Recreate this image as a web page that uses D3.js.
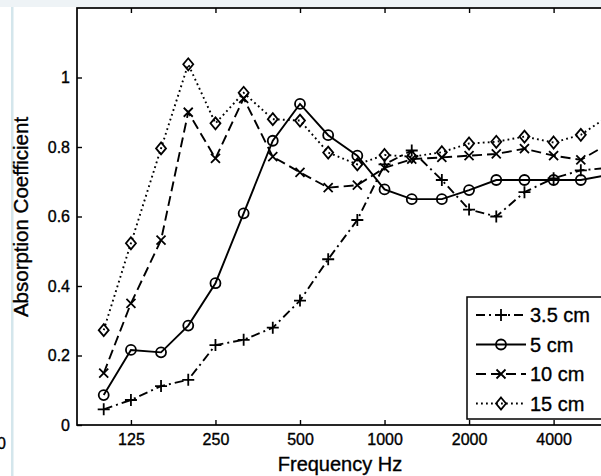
<!DOCTYPE html>
<html>
<head>
<meta charset="utf-8">
<script src="https://cdn.jsdelivr.net/npm/d3@7"></script>
<style>
  body { margin: 0; background: #fff; }
  svg { display: block; overflow: hidden; font-family: "Liberation Sans", Arial, sans-serif; }
  text { stroke: #000; stroke-width: 0.35px; }
</style>
</head>
<body>
<div id="chart"></div>
<script>
// 1/3 octave band centre frequencies
const freqs = [100, 125, 160, 200, 250, 315, 400, 500, 630, 800, 1000, 1250, 1600, 2000, 2500, 3150, 4000, 5000, 6300];
const xTicks = [125, 250, 500, 1000, 2000, 4000];
const yTicks = [0, 0.2, 0.4, 0.6, 0.8, 1];

const labels = ["3.5 cm", "5 cm", "10 cm", "15 cm"];
const s35 = [0.045, 0.072, 0.112, 0.13, 0.23, 0.245, 0.28, 0.358, 0.477, 0.59, 0.75, 0.79, 0.705, 0.62, 0.6, 0.67, 0.71, 0.733, 0.74];
const s5  = [0.086, 0.216, 0.209, 0.286, 0.408, 0.609, 0.818, 0.924, 0.834, 0.775, 0.678, 0.65, 0.65, 0.676, 0.705, 0.705, 0.705, 0.705, 0.72];
const s10 = [0.149, 0.35, 0.532, 0.9, 0.767, 0.94, 0.772, 0.727, 0.683, 0.69, 0.74, 0.765, 0.77, 0.775, 0.78, 0.795, 0.775, 0.763, 0.81];
const s15 = [0.273, 0.523, 0.796, 1.038, 0.868, 0.956, 0.88, 0.876, 0.784, 0.75, 0.777, 0.772, 0.785, 0.81, 0.815, 0.83, 0.813, 0.835, 0.89];

const W = 601, H = 476;
const plot = {left: 77, right: 609, top: 8, bottom: 425};

const svg = d3.select("#chart").append("svg")
    .attr("width", W).attr("height", H);

// page decoration (top band, left stripe, stray clipped label)
svg.append("rect").attr("x", 0).attr("y", 0).attr("width", W).attr("height", 7).attr("fill", "#eef3f6");
svg.append("rect").attr("x", 11).attr("y", 7).attr("width", 2.5).attr("height", H).attr("fill", "#d4e6ec");
svg.append("text").attr("x", -3).attr("y", 449).attr("font-size", 16).text("0");

const x = d3.scaleLog().domain([80, 6300]).range([plot.left - 0.5, plot.right]);
const y = d3.scaleLinear().domain([0, 1.2]).range([plot.bottom, plot.top]);

// axes, matlab style ticks pointing inwards
const gx = svg.append("g").attr("transform", `translate(0,${plot.bottom})`)
    .call(d3.axisBottom(x).tickValues(xTicks).tickFormat(d3.format("d")).tickSize(-5).tickPadding(9));
const gxTop = svg.append("g").attr("transform", `translate(0,${plot.top})`)
    .call(d3.axisTop(x).tickValues(xTicks).tickFormat("").tickSize(-5));
const gy = svg.append("g").attr("transform", `translate(${plot.left},0)`)
    .call(d3.axisLeft(y).tickValues(yTicks).tickFormat(d => d === 0 || d === 1 ? d3.format("d")(d) : d3.format(".1f")(d)).tickSize(-5).tickPadding(7));

[gx, gxTop, gy].forEach(g => {
    g.select(".domain").remove();
    g.selectAll("line").attr("stroke", "#000").attr("stroke-width", 1.4);
    g.selectAll("text").attr("font-size", 16).attr("fill", "#000");
});
gx.selectAll("text").attr("dy", "0.71em");

// frame
svg.append("rect")
    .attr("x", plot.left).attr("y", plot.top)
    .attr("width", plot.right - plot.left).attr("height", plot.bottom - plot.top)
    .attr("fill", "none").attr("stroke", "#000").attr("stroke-width", 1.7);

// series
const styles = [
    {vals: s35, dash: "9,4,2,4", marker: "plus"},
    {vals: s5, dash: null, marker: "circle"},
    {vals: s10, dash: "10,5", marker: "cross"},
    {vals: s15, dash: "1.8,3.2", marker: "diamond"}
];

const line = d3.line().x(d => x(d.f)).y(d => y(d.v));

function drawMarker(g, type, cx, cy) {
    const m = g.append("path")
        .attr("fill", "none").attr("stroke", "#000").attr("stroke-width", 1.8);
    if (type === "plus") {
        m.attr("d", `M${cx - 6},${cy}H${cx + 6}M${cx},${cy - 6}V${cy + 6}`);
    } else if (type === "cross") {
        m.attr("d", `M${cx - 4.5},${cy - 4.5}L${cx + 4.5},${cy + 4.5}M${cx - 4.5},${cy + 4.5}L${cx + 4.5},${cy - 4.5}`);
    } else if (type === "circle") {
        m.attr("d", d3.arc()({innerRadius: 0, outerRadius: 5, startAngle: 0, endAngle: 2 * Math.PI}))
            .attr("transform", `translate(${cx},${cy})`);
    } else {
        m.attr("d", `M${cx},${cy - 6}L${cx + 5},${cy}L${cx},${cy + 6}L${cx - 5},${cy}Z`);
    }
}

const gLines = svg.append("g");
styles.forEach(s => {
    const pts = freqs.map((f, i) => ({f: f, v: s.vals[i]}));
    gLines.append("path").datum(pts)
        .attr("d", line)
        .attr("fill", "none").attr("stroke", "#000").attr("stroke-width", 1.9)
        .attr("stroke-dasharray", s.dash);
    pts.forEach(p => drawMarker(gLines, s.marker, x(p.f), y(p.v)));
});

// legend
const lg = svg.append("g");
lg.append("rect")
    .attr("x", 467).attr("y", 297).attr("width", 160).attr("height", 122)
    .attr("fill", "#fff").attr("stroke", "#000").attr("stroke-width", 1.5);
const rowY = [315, 344.5, 374, 403.5];
styles.forEach((s, i) => {
    lg.append("line")
        .attr("x1", 476).attr("x2", 526).attr("y1", rowY[i]).attr("y2", rowY[i])
        .attr("stroke", "#000").attr("stroke-width", 1.9).attr("stroke-dasharray", s.dash);
    drawMarker(lg, s.marker, 501, rowY[i]);
    lg.append("text")
        .attr("x", 530).attr("y", rowY[i] + 7)
        .attr("font-size", 20).text(labels[i]);
});

// axis titles
svg.append("text")
    .attr("x", 340).attr("y", 471)
    .attr("text-anchor", "middle").attr("font-size", 20)
    .text("Frequency Hz");
svg.append("text")
    .attr("transform", "translate(28,217) rotate(-90)")
    .attr("text-anchor", "middle").attr("font-size", 20.5)
    .text("Absorption Coefficient");
</script>
</body>
</html>
